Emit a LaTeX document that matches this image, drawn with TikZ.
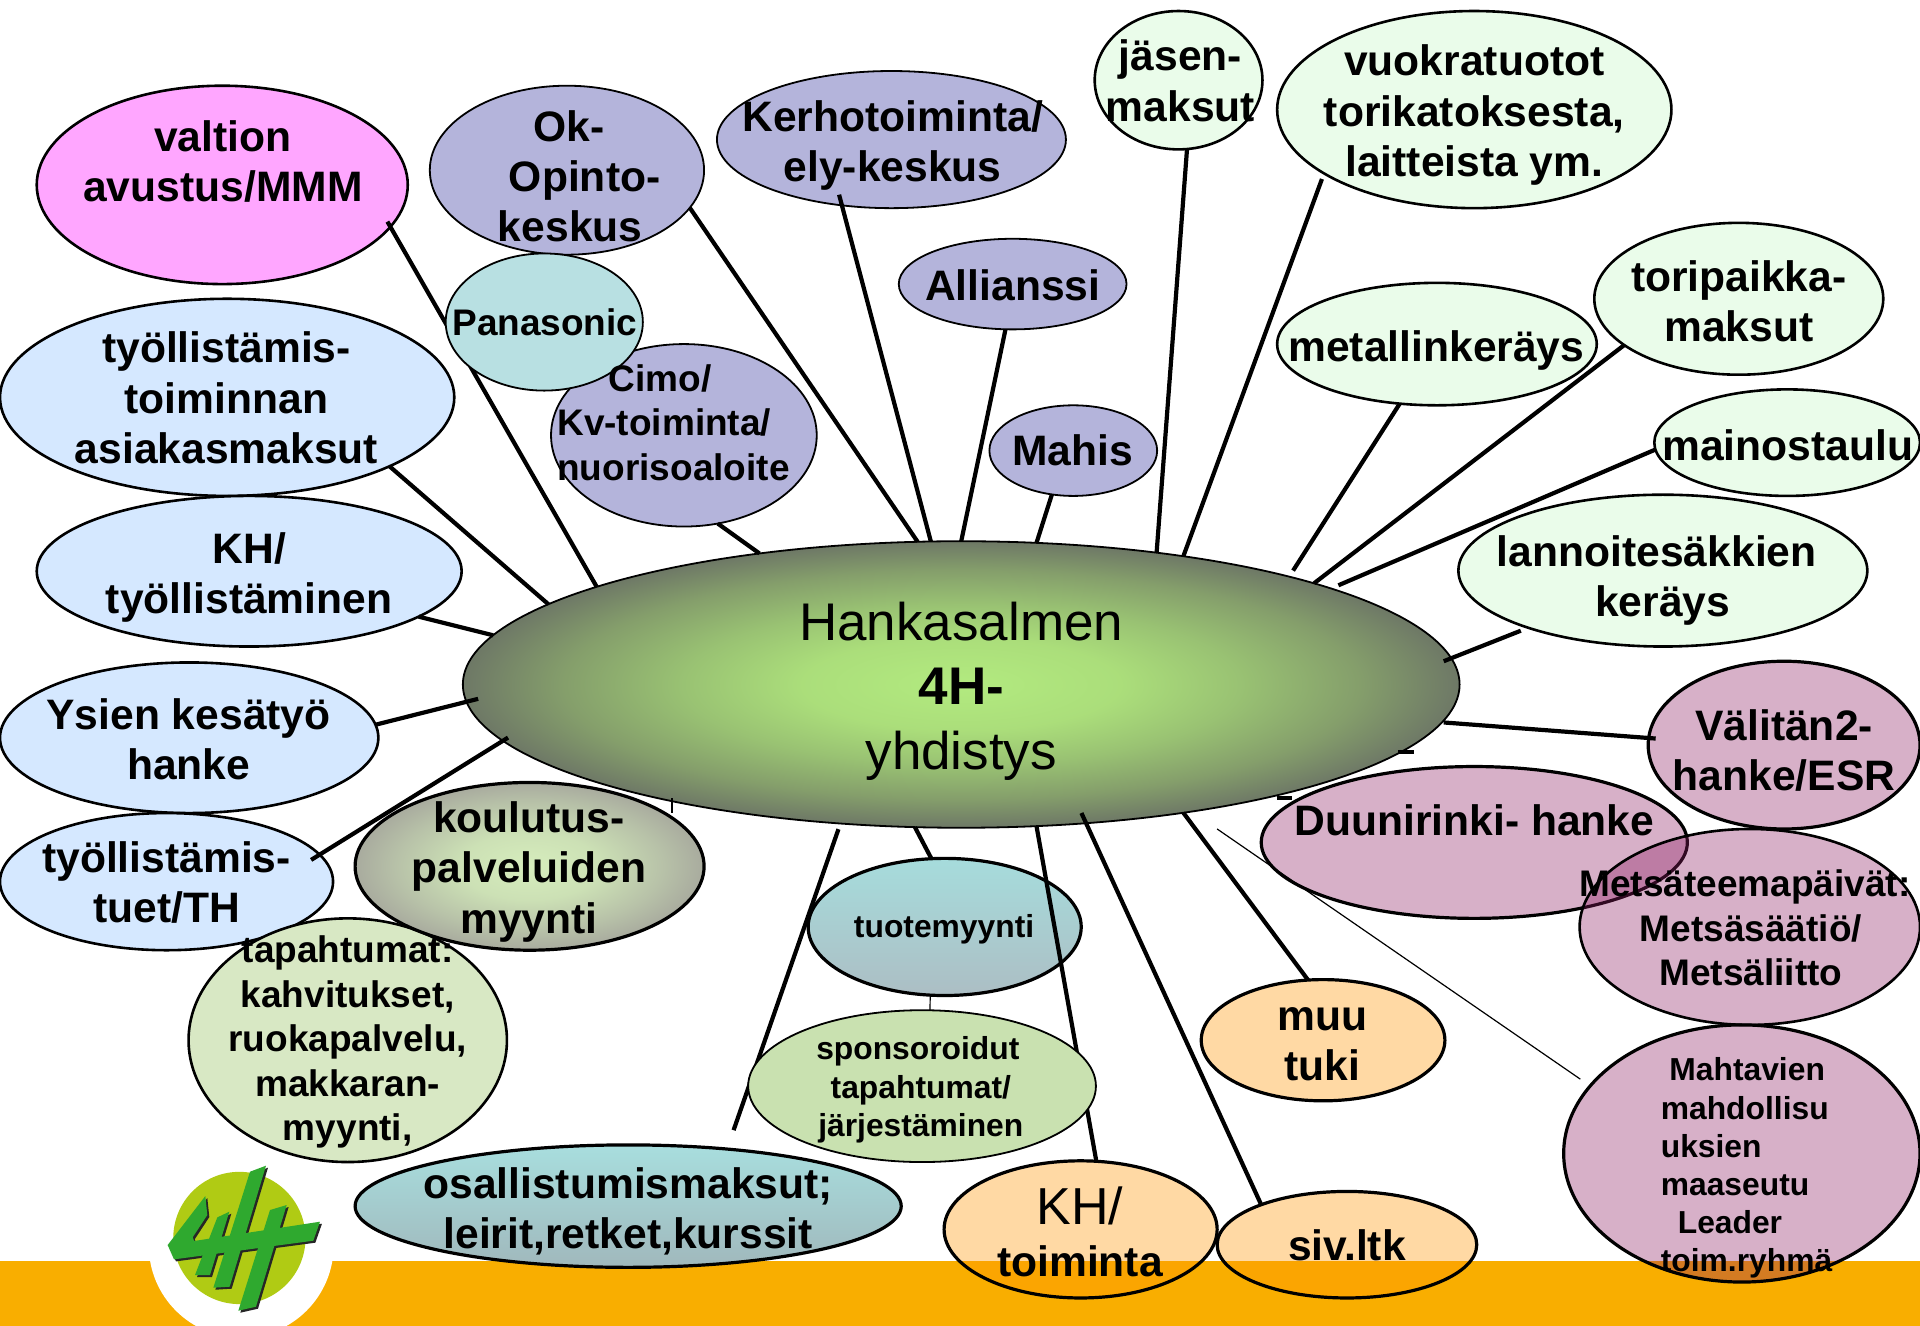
\documentclass[tikz,border=0pt]{standalone}
\usepackage{fontspec}
\setmainfont{Liberation Sans}
\usetikzlibrary{shapes.geometric}
\def\un{0.61224pt}
\definecolor{bandc}{HTML}{F9AE00}
\definecolor{pinkc}{RGB}{143,29,98}
\definecolor{orc}{RGB}{255,150,3}
\definecolor{purc}{HTML}{B4B4DB}
\definecolor{bluec}{HTML}{D5E8FF}
\definecolor{mintc}{HTML}{EAFCEA}
\definecolor{panc}{HTML}{B8E0E2}
\definecolor{logog}{HTML}{2FA92F}
\definecolor{logol}{HTML}{B0CB14}
\pgfdeclareradialshading{hubshade}{\pgfpoint{0bp}{0bp}}{rgb(0bp)=(0.70,0.92,0.50);rgb(8bp)=(0.67,0.87,0.48);rgb(14bp)=(0.60,0.76,0.45);rgb(20bp)=(0.52,0.62,0.42);rgb(25bp)=(0.43,0.47,0.40);rgb(50bp)=(0.43,0.47,0.40)}
\pgfdeclareradialshading{kouluts}{\pgfpoint{0bp}{0bp}}{rgb(0bp)=(0.84,0.93,0.74);rgb(10bp)=(0.80,0.88,0.71);rgb(19bp)=(0.72,0.76,0.66);rgb(25bp)=(0.66,0.67,0.62);rgb(50bp)=(0.66,0.67,0.62)}
\tikzset{
  bub/.style 2 args={ellipse,draw=black,inner sep=0pt,outer sep=0pt,minimum width=#1*\un,minimum height=#2*\un},
  thinb/.style={line width=0.9pt},
  medb/.style={line width=1.3pt},
  thickb/.style={line width=1.6pt},
  pinkb/.style={fill=pinkc,fill opacity=0.35},
  orb/.style={fill=orc,fill opacity=0.36},
  conn/.style={line width=2.1pt,draw=black},
  fine/.style={line width=0.6pt,draw=black},
  txt/.style={align=center,inner sep=0pt,font=\fontsize{21.3}{25.1}\selectfont\bfseries},
  txtm/.style={align=center,inner sep=0pt,font=\fontsize{18.5}{22.3}\selectfont\bfseries},
  txts/.style={align=center,inner sep=0pt,font=\fontsize{15.9}{19.1}\selectfont\bfseries},
  hubt/.style={align=center,inner sep=0pt,font=\fontsize{26.5}{32.3}\selectfont},
}
\begin{document}
\begin{tikzpicture}[x=\un,y=-\un]
\useasboundingbox (0,0) rectangle (1568,1082.9);
\fill[white] (0,0) rectangle (1568,1082.9);
% band and logo
\fill[bandc] (0,1030) rectangle (1568,1082.9);
\begin{scope}
\clip (0,0) rectangle (1568,1082.9);
\fill[white] (197,1017) circle[radius=75.5];
\end{scope}
\fill[logol] (195.5,1011) circle[radius=54];
\begin{scope}[shift={(81.67,914.7)},x=0.16666pt,y=-0.16666pt]
  \begin{scope}[shift={(6,6)}]
  \fill[black!85] (203,375)--(660,305)--(640,362)--(222,418)--cycle;
  \fill[black!85] (203,375)--(316,228)--(322,285)--(278,352)--(290,380)--cycle;
  \fill[black!85] (352,292)--(388,275)--(330,465)--(285,465)--cycle;
  \fill[black!85] (450,155)--(498,137)--(389,500)--(340,503)--cycle;
  \fill[black!85] (510,270)--(560,255)--(468,560)--(415,572)--cycle;
  \end{scope}
  \fill[logog] (203,375)--(660,305)--(640,362)--(222,418)--cycle;
  \fill[logog] (203,375)--(316,228)--(322,285)--(278,352)--(290,380)--cycle;
  \fill[logog] (352,292)--(388,275)--(330,465)--(285,465)--cycle;
  \fill[logog] (450,155)--(498,137)--(389,500)--(340,503)--cycle;
  \fill[logog] (510,270)--(560,255)--(468,560)--(415,572)--cycle;
\end{scope}
% ellipses below the connectors
\node[bub={303}{162},medb,fill={rgb,255:red,255;green,166;blue,255}] (valtion) at (181.5,151) {};
\node[bub={224}{138},thinb,fill=purc] (ok) at (463,139) {};
\node[bub={285}{112},thinb,fill=purc] (kerho) at (728,114) {};
\node[bub={137}{113},medb,fill=mintc] (jasen) at (962.5,65.5) {};
\node[bub={322}{161},medb,fill=mintc] (vuokra) at (1204,89.5) {};
\node[bub={186}{74},thinb,fill=purc] (allianssi) at (827,232) {};
\node[bub={217}{149},thinb,fill=purc] (cimo) at (558.5,355.5) {};
\node[bub={261}{100},medb,fill=mintc] (metalli) at (1173.5,281) {};
\node[bub={236}{124},medb,fill=mintc] (tori) at (1420,244) {};
\node[bub={217}{87},medb,fill=mintc] (mainos) at (1459.5,361.5) {};
\node[bub={137}{74},thinb,fill=purc] (mahis) at (876.5,368) {};
\node[bub={371}{161},medb,fill=bluec] (tyollis) at (185.5,324.5) {};
\node[bub={347}{123},medb,fill=bluec] (kht) at (203.5,466.5) {};
\node[bub={309}{123},medb,fill=bluec] (ysien) at (154.5,602.5) {};
\node[bub={272}{112},medb,fill=bluec] (tuet) at (136,720) {};
\node[bub={260}{199},medb,fill={rgb,255:red,216;green,232;blue,196}] (tapaht) at (284,849.5) {};
\node[bub={285}{137},thickb,shading=kouluts] (koulutus) at (432.5,707.5) {};
\node[bub={223}{112},thickb,top color={rgb,255:red,166;green,220;blue,220},bottom color={rgb,255:red,172;green,190;blue,196}] (tuote) at (771.5,757) {};
\node[bub={446}{100},thickb,top color={rgb,255:red,168;green,222;blue,222},bottom color={rgb,255:red,160;green,184;blue,188}] (osall) at (513,985) {};
\node[bub={223}{112},thickb,orb] (khtoim) at (882.5,1004) {};
\node[bub={212}{87},thickb,orb] (siv) at (1100,1016.5) {};
\node[bub={199}{99},thickb,orb] (muu) at (1080.5,849.5) {};
\node[bub={334}{124},medb,fill=mintc] (lannoite) at (1358,466) {};
\node[bub={814}{234},thinb,shading=hubshade] (hub) at (785,559) {};
\node[bub={222}{137},thickb,pinkb] (valitan) at (1457,608.5) {};
\node[bub={348}{124},thickb,pinkb] (duuni) at (1204,688) {};
\node[bub={278}{160},medb,pinkb] (metsa) at (1429,757) {};
\node[bub={291}{210},thickb,pinkb] (mahta) at (1422.5,942) {};
% free ends
\coordinate (metEnd) at (1056,466);
\coordinate (mainEnd) at (1093,478);
\coordinate (mahtaEnd) at (994,677);
\coordinate (lanEnd) at (1179,540);
\coordinate (valEnd) at (1179,590);
\coordinate (tickAa) at (1142,614);
\coordinate (tickAb) at (1155,614);
\coordinate (tickBa) at (1043,651.5);
\coordinate (tickBb) at (1055,651.5);
\coordinate (tickCa) at (549,652);
\coordinate (tickCb) at (549,664);
% connectors
\draw[conn,shorten <=-3pt] (valtion.-14.5) -- (hub.165.7);
\draw[conn] (ok.-17.4) -- (hub.107.4);
\draw[conn,shorten <=-5.5pt] (kerho.-127.7) -- (hub.102);
\draw[conn] (allianssi.-99.2) -- (hub.90.5);
\draw[conn] (mahis.-116) -- (hub.62.5);
\draw[conn] (jasen.-83.4) -- (hub.34.5);
\draw[conn,shorten <=3pt] (vuokra.-157) -- (hub.30.1);
\draw[conn] (metalli.-122.2) -- (metEnd);
\draw[conn] (tori.-158.5) -- (hub.16.55);
\draw[conn] (mainos.-177) -- (mainEnd);
\draw[conn,shorten <=4pt] (lannoite.-157) -- (lanEnd);
\draw[conn,shorten <=-3.5pt] (valitan.177) -- (valEnd);
\draw[fine,shorten <=6pt] (mahta.156) -- (mahtaEnd);
\draw[conn] (muu.104.1) -- (hub.-30.2);
\draw[conn,shorten >=-5.6pt] (siv.155.1) -- (hub.-48.5);
\draw[conn] (khtoim.77.4) -- (hub.-62.5);
\draw[conn] (tuote.101.6) -- (hub.-108);
\draw[conn,shorten <=10pt,shorten >=3pt] (osall.30.2) -- (hub.-131);
\draw[conn,shorten <=-5pt,shorten >=-3pt] (tuet.10.9) -- (hub.-173.4);
\draw[conn,shorten >=-6pt] (ysien.4.8) -- (hub.-178.7);
\draw[conn] (kht.-15) -- (hub.174.8);
\draw[conn] (tyollis.-23.2) -- (hub.169.2);
\draw[conn] (cimo.-69.7) -- (hub.147);
\draw[conn] (tickAa) -- (tickAb);
\draw[conn] (tickBa) -- (tickBb);
\draw[line width=0.9pt] (tickCa) -- (tickCb);
% ellipses above the connectors
\node[bub={284}{124},thinb,fill={rgb,255:red,201;green,225;blue,176}] (spons) at (753,887) {};
\node[bub={161}{112},thinb,fill=panc] (pana) at (444.5,263) {};
\draw[fine] (tuote.-102.6) -- (spons.84.5);
% texts
\node[txt] (valtionT) at (182,132) {valtion\\avustus/MMM};
\node[txt,align=left] (okT) at (473,144) {\hspace*{17.8pt}Ok-\\\hspace*{5.5pt}Opinto-\\keskus};
\node[txt] (kerhoT) at (729,119) {Kerhotoiminta/\\ely-keskus};
\node[txt] (jasenT) at (964,66) {jäsen-\\maksut};
\node[txt] (vuokraT) at (1204,94) {vuokratuotot\\torikatoksesta,\\laitteista ym.};
\node[txt] (allianssiT) at (827,233) {Allianssi};
\node[txtm] (panaT) at (445,263) {Panasonic};
\node[txtm,align=left] (cimoT) at (550,345) {\hspace*{25.7pt}Cimo/\\Kv-toiminta/\\nuorisoaloite};
\node[txt] (metalliT) at (1173,286) {metallinkeräys};
\node[txt] (toriT) at (1420,246) {toripaikka-\\maksut};
\node[txt] (mainosT) at (1460,364) {mainostaulu};
\node[txt] (mahisT) at (876,368) {Mahis};
\node[txt] (tyollisT) at (185,325) {työllistämis-\\toiminnan\\asiakasmaksut};
\node[txt] (khtT) at (203.5,471.5) {KH/\\työllistäminen};
\node[txt] (ysienT) at (154,603.5) {Ysien kesätyö\\hanke};
\node[txt] (tuetT) at (136,721) {työllistämis-\\tuet/TH};
\node[txt] (koulutusT) at (432,712) {koulutus-\\palveluiden\\myynti};
\node[txtm] (tapahtT) at (284,851) {tapahtumat:\\kahvitukset,\\ruokapalvelu,\\makkaran-\\myynti,};
\node[txts] (tuoteT) at (771,759) {tuotemyynti};
\node[txts] (sponsT) at (752,890) {\hspace*{-3pt}sponsoroidut\\tapahtumat/\\järjestäminen};
\node[txt] (osallT) at (513,989.5) {osallistumismaksut;\\leirit,retket,kurssit};
\node[txt] (khtoimT) at (882,1006) {{\fontsize{26}{30}\selectfont\mdseries KH/}\\[1pt]toiminta};
\node[txt] (sivT) at (1100,1017) {siv.ltk};
\node[txt] (muuT) at (1080,853) {muu\\tuki};
\node[txt] (lannoiteT) at (1353,474) {lannoitesäkkien\\\hspace*{6pt}keräys};
\node[txt] (duuniT) at (1204,670) {Duunirinki- hanke};
\node[txt] (valitanT) at (1457,613) {Välitän2-\\hanke/ESR};
\node[txtm] (metsaT) at (1425,758) {Metsäteemapäivät:\\\hspace*{6pt}Metsäsäätiö/\\\hspace*{6pt}Metsäliitto};
\node[txts,align=left,anchor=west] (mahtaT) at (1356,954) {\hspace*{4.3pt}Mahtavien\\mahdollisu\\uksien\\maaseutu\\\hspace*{8.5pt}Leader\\toim.ryhmä};
\node[hubt] (hubT) at (785,564.5) {Hankasalmen\\\textbf{4H-}\\yhdistys};
\end{tikzpicture}
\end{document}
